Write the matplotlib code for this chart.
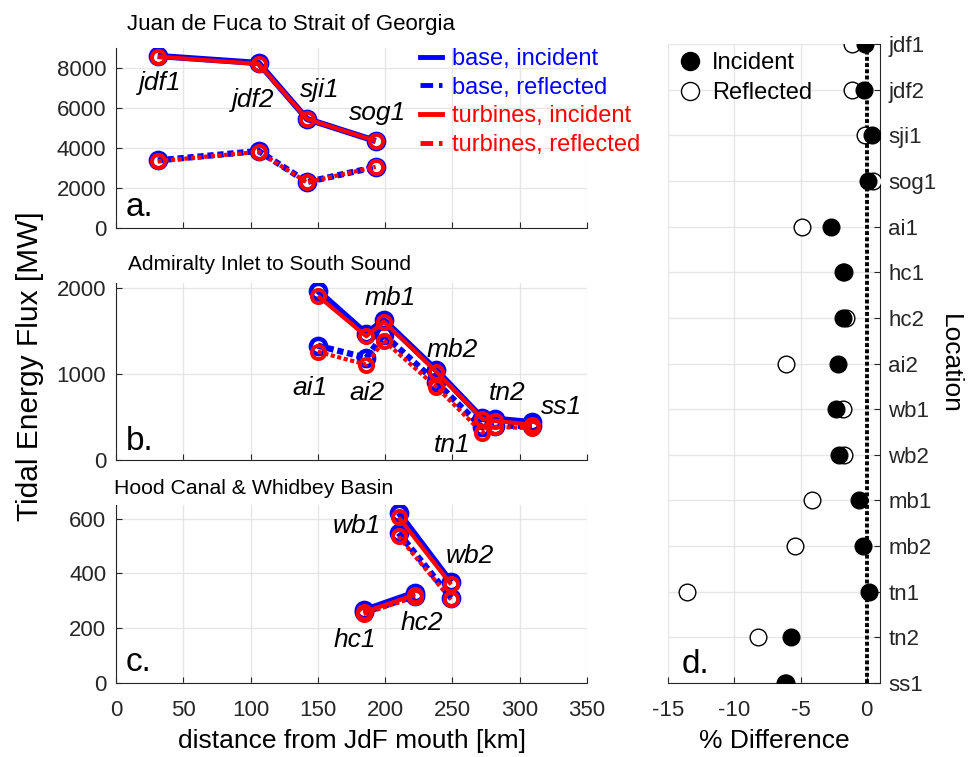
import matplotlib
matplotlib.use("Agg")
import matplotlib.pyplot as plt
from matplotlib.lines import Line2D
import numpy as np

plt.rcParams['font.family'] = ['Liberation Sans', 'DejaVu Sans']
plt.rcParams['axes.unicode_minus'] = False

# ---- Panel a: Juan de Fuca to Strait of Georgia ----
a_names = ['jdf1', 'jdf2', 'sji1', 'sog1']
a_km = [31, 106, 142, 193]
a_base_inc = [8600, 8250, 5450, 4350]
a_turb_inc = [8570, 8200, 5450, 4350]
a_base_ref = [3380, 3850, 2300, 3050]
a_turb_ref = [3340, 3810, 2280, 3060]

# ---- Panel b: Admiralty Inlet to South Sound ----
b_names = ['ai1', 'ai2', 'mb1', 'mb2', 'tn1', 'tn2', 'ss1']
b_km = [150, 186, 199, 238, 272, 282, 309]
b_base_inc = [1970, 1470, 1630, 1045, 490, 480, 440]
b_turb_inc = [1910, 1440, 1610, 1030, 480, 455, 410]
b_base_ref = [1330, 1190, 1460, 905, 380, 400, 395]
b_turb_ref = [1260, 1110, 1390, 850, 320, 385, 370]

# ---- Panel c: Hood Canal & Whidbey Basin ----
c_names = ['hc1', 'hc2', 'wb1', 'wb2']
c_km = [184, 222, 210, 249]
c_base_inc = [265, 330, 622, 368]
c_turb_inc = [258, 322, 605, 360]
c_base_ref = [258, 318, 548, 311]
c_turb_ref = [252, 314, 535, 305]

# ---- Panel d: % difference ----
d_locs = ['jdf1', 'jdf2', 'sji1', 'sog1', 'ai1', 'hc1', 'hc2', 'ai2',
          'wb1', 'wb2', 'mb1', 'mb2', 'tn1', 'tn2', 'ss1']
d_inc = [-0.1, -0.2, 0.4, 0.1, -2.7, -1.8, -1.8, -2.2,
         -2.3, -2.1, -0.6, -0.3, 0.2, -5.7, -6.2]
d_ref = [-1.1, -1.1, -0.1, 0.5, -4.9, -1.7, -1.6, -6.1,
         -1.8, -1.75, -4.1, -5.4, -13.6, -8.2, -6.1]

W, H = 971, 757
fig = plt.figure(figsize=(W / 100, H / 100), dpi=100)

def frac(left, top, right, bottom):
    return [left / W, 1 - bottom / H, (right - left) / W, (bottom - top) / H]

def fx(px):
    return px / W

def fy(py):
    return 1 - py / H

ax_a = fig.add_axes(frac(116, 48, 587, 228))
ax_b = fig.add_axes(frac(116, 283, 587, 460))
ax_c = fig.add_axes(frac(116, 505, 587, 683))
ax_d = fig.add_axes(frac(668, 44, 880, 683))

BLUE = '#0000ff'
RED = '#ff0000'
SPINE = '#262626'
GRID = '#e6e6e6'
TICKFS = 16
LABFS = 19
ANNFS = 19
LETFS = 24

DOT = (0, (1.0, 0.6))

def draw_series(ax, x, y, color, ls, lw, ms, mew, z):
    ax.plot(x, y, color=color, ls=ls, lw=lw, marker='o', ms=ms, mew=mew,
            mfc='none', mec=color, zorder=z, solid_capstyle='butt',
            dash_capstyle='butt')

def draw_group(ax, x, bi, ti, br, tr):
    draw_series(ax, x, bi, BLUE, '-', 4.5, 11, 3.2, 3)
    draw_series(ax, x, br, BLUE, DOT, 4.5, 11, 3.2, 3)
    draw_series(ax, x, ti, RED, '-', 3.0, 9.5, 2.8, 4)
    draw_series(ax, x, tr, RED, DOT, 3.0, 9.5, 2.8, 4)

def style_left(ax, ylim, yticks, show_x):
    ax.set_xlim(0, 350)
    ax.set_ylim(*ylim)
    ax.set_xticks(np.arange(0, 351, 50))
    ax.set_yticks(yticks)
    ax.grid(True, color=GRID, lw=1.0, zorder=0)
    ax.set_axisbelow(True)
    for s in ['top', 'right']:
        ax.spines[s].set_visible(False)
    for s in ['left', 'bottom']:
        ax.spines[s].set_color(SPINE)
        ax.spines[s].set_linewidth(0.8)
    ax.tick_params(direction='in', length=4, colors=SPINE, labelsize=TICKFS,
                   width=0.8)
    ax.tick_params(axis='y', pad=7)
    ax.tick_params(axis='x', pad=12)
    if not show_x:
        ax.tick_params(axis='x', labelbottom=False)

def annotate(ax, pos, names):
    for (xx, yy), nm in zip(pos, names):
        ax.text(xx, yy, nm, fontsize=ANNFS, style='italic', ha='center',
                va='center', zorder=6)

# Panel a
draw_group(ax_a, a_km, a_base_inc, a_turb_inc, a_base_ref, a_turb_ref)
style_left(ax_a, (0, 9000), [0, 2000, 4000, 6000, 8000], False)
fig.text(fx(127), fy(30), 'Juan de Fuca to Strait of Georgia', fontsize=16,
         ha='left', va='baseline')
ax_a.text(7, 1000, 'a.', fontsize=LETFS, ha='left', va='center')
annotate(ax_a, [(32.5, 7250), (102, 6400), (151.5, 6900), (194, 5750)], a_names)

handles = [
    Line2D([], [], color=BLUE, lw=3.5, ls='-'),
    Line2D([], [], color=BLUE, lw=3.5, ls=(0, (2.6, 1.2, 1.0, 1.2))),
    Line2D([], [], color=RED, lw=3.5, ls='-'),
    Line2D([], [], color=RED, lw=3.5, ls=(0, (2.6, 1.2, 1.0, 1.2))),
]
labels = ['base, incident', 'base, reflected', 'turbines, incident', 'turbines, reflected']
leg = ax_a.legend(handles, labels, loc='upper left',
                  bbox_to_anchor=(fx(420), fy(48)), bbox_transform=fig.transFigure,
                  frameon=False, fontsize=17, handlelength=0.95, handletextpad=0.42,
                  labelspacing=0.28, borderaxespad=0.0, borderpad=0.0)
for t, c in zip(leg.get_texts(), [BLUE, BLUE, RED, RED]):
    t.set_color(c)

# Panel b
draw_group(ax_b, b_km, b_base_inc, b_turb_inc, b_base_ref, b_turb_ref)
style_left(ax_b, (0, 2060), [0, 1000, 2000], False)
fig.text(fx(128), fy(270), 'Admiralty Inlet to South Sound', fontsize=15,
         ha='left', va='baseline')
ax_b.text(7, 215, 'b.', fontsize=LETFS, ha='left', va='center')
annotate(ax_b, [(144, 837), (186.5, 779), (203.6, 1884), (250, 1280),
                (250, 174), (291, 779), (331, 616)], b_names)

# Panel c: hc and wb are separate segments
draw_group(ax_c, c_km[:2], c_base_inc[:2], c_turb_inc[:2], c_base_ref[:2], c_turb_ref[:2])
draw_group(ax_c, c_km[2:], c_base_inc[2:], c_turb_inc[2:], c_base_ref[2:], c_turb_ref[2:])
style_left(ax_c, (0, 650), [0, 200, 400, 600], True)
fig.text(fx(114), fy(494), 'Hood Canal & Whidbey Basin', fontsize=15.3,
         ha='left', va='baseline')
ax_c.text(7, 75, 'c.', fontsize=LETFS, ha='left', va='center')
annotate(ax_c, [(177.6, 156), (227, 218), (179, 575), (263, 465)], c_names)
ax_c.set_xlabel('distance from JdF mouth [km]', fontsize=LABFS, labelpad=6)

fig.text(fx(30), fy(366), 'Tidal Energy Flux [MW]', rotation=90, fontsize=21.5,
         ha='center', va='center')

# Panel d
ypos = np.arange(len(d_locs))
ax_d.axvline(0, color='black', lw=2.8, ls=DOT, zorder=2)
ax_d.plot(d_ref, ypos, ls='none', marker='o', ms=12, mfc='white', mec='black',
          mew=1.0, zorder=3)
ax_d.plot(d_inc, ypos, ls='none', marker='o', ms=12, mfc='black', mec='black',
          mew=1.0, zorder=4)
ax_d.set_ylim(len(d_locs) - 1, 0)
ax_d.set_xlim(-15, 1)
ax_d.set_xticks([-15, -10, -5, 0])
ax_d.set_yticks(ypos)
ax_d.set_yticklabels(d_locs)
ax_d.yaxis.tick_right()
ax_d.yaxis.set_label_position('right')
ax_d.grid(True, color=GRID, lw=1.0, zorder=0)
ax_d.set_axisbelow(True)
for s in ['top', 'left']:
    ax_d.spines[s].set_visible(False)
for s in ['right', 'bottom']:
    ax_d.spines[s].set_color(SPINE)
    ax_d.spines[s].set_linewidth(0.8)
ax_d.tick_params(direction='in', length=4, colors=SPINE, labelsize=TICKFS, width=0.8)
ax_d.tick_params(axis='y', pad=6)
ax_d.tick_params(axis='x', pad=12)
ax_d.set_xlabel('% Difference', fontsize=LABFS, labelpad=6)
ax_d.set_ylabel('Location', fontsize=LABFS, rotation=-90, labelpad=18)
ax_d.text(-14.0, 13.6, 'd.', fontsize=LETFS, ha='left', va='center')
h_inc = Line2D([], [], ls='none', marker='o', ms=13, mfc='black', mec='black')
h_ref = Line2D([], [], ls='none', marker='o', ms=13, mfc='white', mec='black')
ax_d.legend([h_inc, h_ref], ['Incident', 'Reflected'], loc='upper left',
            bbox_to_anchor=(fx(678), fy(52)), bbox_transform=fig.transFigure,
            frameon=False, fontsize=17, handlelength=1.0, handletextpad=0.45,
            labelspacing=0.35, borderaxespad=0.0, borderpad=0.0)

fig.savefig('out.png', dpi=100)
